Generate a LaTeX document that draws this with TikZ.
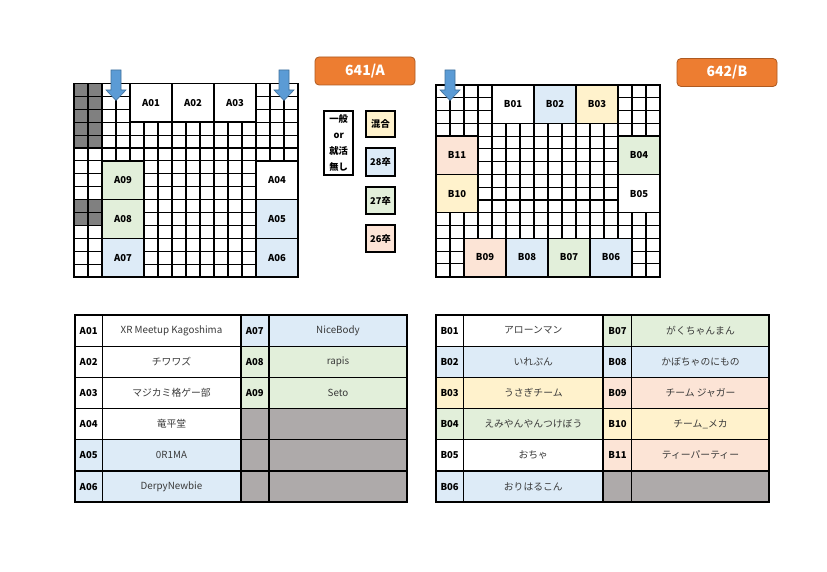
\documentclass[tikz,border=0pt]{standalone}
\usepackage{fontspec}
\setmainfont{Noto Sans CJK JP}
\definecolor{cblue}{HTML}{DDEBF7}
\definecolor{cgreen}{HTML}{E2EFDA}
\definecolor{cyellow}{HTML}{FFF2CC}
\definecolor{cpeach}{HTML}{FCE4D6}
\definecolor{cgray}{HTML}{808080}
\definecolor{tgray}{HTML}{AEAAAA}
\definecolor{corange}{HTML}{ED7D31}
\definecolor{corangedark}{HTML}{AE5A21}
\definecolor{carrow}{HTML}{5B9BD5}
\definecolor{carrowdark}{HTML}{41719C}
\definecolor{ntext}{HTML}{3A3A3A}
\begin{document}
\begin{tikzpicture}[x=1pt,y=-1pt,
  gridline/.style={black, line width=1.1pt},
  mapborder/.style={black, line width=1.8pt},
  booth/.style={draw=black, line width=1.5pt, inner sep=0pt, font=\fontsize{9.5}{11}\selectfont\bfseries},
  legendbox/.style={draw=black, line width=1.8pt, inner sep=0pt, minimum width=29, font=\fontsize{9.3}{16}\selectfont\bfseries, align=center},
  titlebox/.style={rounded corners=4pt, fill=corange, draw=corangedark, line width=0.8pt, text=white, minimum width=100, minimum height=28, inner sep=0pt, font=\fontsize{14}{16}\selectfont\bfseries},
  entrance/.style={fill=carrow, draw=carrowdark, line width=0.6pt},
  tid/.style={draw=black, line width=1.3pt, inner sep=0pt, minimum height=31.2, font=\fontsize{9.5}{11}\selectfont\bfseries},
  tname/.style={draw=black, line width=1.3pt, inner sep=0pt, minimum height=31.2, text=ntext, font=\fontsize{9.8}{11}\selectfont},
  tborder/.style={black, line width=1.9pt}
]
\fill[white] (0,0) rectangle (827,572);
\useasboundingbox (0,0) rectangle (827,572);

% ---------------- Map A ----------------
\fill[cgray] (74,83.5) rectangle (102,148);
\fill[cgray] (74,199.6) rectangle (102,225.4);
\foreach \i in {0,...,16} \draw[gridline] (74+\i*14,83.5) -- (74+\i*14,277);
\foreach \j in {0,...,15} \draw[gridline] (74,83.5+\j*12.9) -- (298,83.5+\j*12.9);
\draw[mapborder] (74,83.5) rectangle (298,277);

\node[booth, fill=white, minimum width=42, minimum height=38.7] (A01) at (151,102.85) {A01};
\node[booth, fill=white, minimum width=42, minimum height=38.7] (A02) at (193,102.85) {A02};
\node[booth, fill=white, minimum width=42, minimum height=38.7] (A03) at (235,102.85) {A03};
\node[booth, fill=cgreen, minimum width=42, minimum height=38.7] (A09) at (123,180.25) {A09};
\node[booth, fill=cgreen, minimum width=42, minimum height=38.7] (A08) at (123,218.95) {A08};
\node[booth, fill=cblue, minimum width=42, minimum height=38.7] (A07) at (123,257.65) {A07};
\node[booth, fill=white, minimum width=42, minimum height=38.7] (A04) at (277,180.25) {A04};
\node[booth, fill=cblue, minimum width=42, minimum height=38.7] (A05) at (277,218.95) {A05};
\node[booth, fill=cblue, minimum width=42, minimum height=38.7] (A06) at (277,257.65) {A06};

\draw[entrance, shift={(116,70)}] (-5,0) -- (5,0) -- (5,20) -- (10,20) -- (0,30.5) -- (-10,20) -- (-5,20) -- cycle;
\draw[entrance, shift={(284,70)}] (-5,0) -- (5,0) -- (5,20) -- (10,20) -- (0,30.5) -- (-10,20) -- (-5,20) -- cycle;

% ---------------- Map B ----------------
\foreach \i in {0,...,16} \draw[gridline] (436+\i*14,85) -- (436+\i*14,276.7);
\foreach \j in {0,...,15} \draw[gridline] (436,85+\j*12.78) -- (660,85+\j*12.78);
\draw[mapborder] (436,85) rectangle (660,276.7);

\node[booth, fill=white, minimum width=42, minimum height=38.3] (B01) at (513,104.2) {B01};
\node[booth, fill=cblue, minimum width=42, minimum height=38.3] (B02) at (555,104.2) {B02};
\node[booth, fill=cyellow, minimum width=42, minimum height=38.3] (B03) at (597,104.2) {B03};
\node[booth, fill=cpeach, minimum width=42, minimum height=38.3] (B11) at (457,155.3) {B11};
\node[booth, fill=cyellow, minimum width=42, minimum height=38.3] (B10) at (457,193.6) {B10};
\node[booth, fill=cgreen, minimum width=42, minimum height=38.3] (B04) at (639,155.3) {B04};
\node[booth, fill=white, minimum width=42, minimum height=38.3] (B05) at (639,193.6) {B05};
\node[booth, fill=cpeach, minimum width=42, minimum height=38.3] (B09) at (485,257.5) {B09};
\node[booth, fill=cblue, minimum width=42, minimum height=38.3] (B08) at (527,257.5) {B08};
\node[booth, fill=cgreen, minimum width=42, minimum height=38.3] (B07) at (569,257.5) {B07};
\node[booth, fill=cblue, minimum width=42, minimum height=38.3] (B06) at (611,257.5) {B06};

\draw[entrance, shift={(450,70)}] (-5,0) -- (5,0) -- (5,20) -- (10,20) -- (0,30.5) -- (-10,20) -- (-5,20) -- cycle;

% ---------------- Titles ----------------
\node[titlebox] (t641) at (365,71) {641/A};
\node[titlebox] (t642) at (727,72.5) {642/B};

% ---------------- Legend ----------------
\node[legendbox, fill=white, minimum height=64] (lgen) at (338.7,143) {一般\\or\\就活\\無し};
\node[legendbox, fill=cyellow, minimum height=26.5] (lmix) at (380.5,124) {混合};
\node[legendbox, fill=cblue, minimum height=27.5] (l28) at (380.5,162) {28卒};
\node[legendbox, fill=cgreen, minimum height=27.5] (l27) at (380.5,200.5) {27卒};
\node[legendbox, fill=cpeach, minimum height=27.5] (l26) at (380.5,238.5) {26卒};

% ---------------- Table A ----------------
\foreach \k/\id/\nm/\c in {0/A01/{XR Meetup Kagoshima}/white,1/A02/チワワズ/white,2/A03/マジカミ格ゲー部/white,3/A04/竜平堂/white,4/A05/0R1MA/cblue,5/A06/DerpyNewbie/cblue}{
  \node[tid, fill=\c, minimum width=27.3] (t\id) at (88.65,330.6+31.2*\k) {\id};
  \node[tname, fill=\c, minimum width=138.4] (n\id) at (171.5,330.6+31.2*\k) {\nm};
}
\foreach \k/\id/\nm/\c in {0/A07/NiceBody/cblue,1/A08/rapis/cgreen,2/A09/Seto/cgreen}{
  \node[tid, fill=\c, minimum width=28.3] (t\id) at (254.85,330.6+31.2*\k) {\id};
  \node[tname, fill=\c, minimum width=138] (n\id) at (338,330.6+31.2*\k) {\nm};
}
\foreach \k in {3,4,5}{
  \node[tid, fill=tgray, minimum width=28.3] (tAe\k) at (254.85,330.6+31.2*\k) {};
  \node[tname, fill=tgray, minimum width=138] (nAe\k) at (338,330.6+31.2*\k) {};
}
\draw[tborder] (75,315) rectangle (407,502.2);
\draw[tborder] (240.7,315) -- (240.7,502.2);

% ---------------- Table B ----------------
\foreach \k/\id/\nm/\c in {0/B01/アローンマン/white,1/B02/いれぷん/cblue,2/B03/うさぎチーム/cyellow,3/B04/えみやんやんつけぼう/cgreen,4/B05/おちゃ/white,5/B06/おりはるこん/cblue}{
  \node[tid, fill=\c, minimum width=27.3] (t\id) at (449.65,330.6+31.2*\k) {\id};
  \node[tname, fill=\c, minimum width=140] (n\id) at (533.3,330.6+31.2*\k) {\nm};
}
\foreach \k/\id/\nm/\c in {0/B07/がくちゃんまん/cgreen,1/B08/かぼちゃのにもの/cblue,2/B09/チーム ジャガー/cpeach,3/B10/チーム\_メカ/cyellow,4/B11/ティーパーティー/cpeach}{
  \node[tid, fill=\c, minimum width=28.4] (t\id) at (617.5,330.6+31.2*\k) {\id};
  \node[tname, fill=\c, minimum width=137.6] (n\id) at (700.5,330.6+31.2*\k) {\nm};
}
\node[tid, fill=tgray, minimum width=28.4] (tBe5) at (617.5,330.6+31.2*5) {};
\node[tname, fill=tgray, minimum width=137.6] (nBe5) at (700.5,330.6+31.2*5) {};
\draw[tborder] (436,315) rectangle (769.3,502.2);
\draw[tborder] (603.3,315) -- (603.3,502.2);
\end{tikzpicture}
\end{document}
